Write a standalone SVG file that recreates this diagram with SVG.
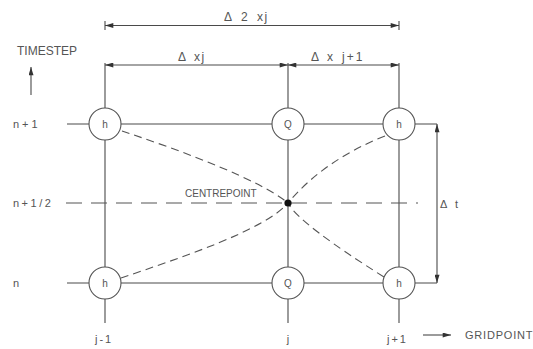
<svg xmlns="http://www.w3.org/2000/svg" width="533" height="349" viewBox="0 0 533 349">
<style>
.ln{stroke:#4a4a4a;stroke-width:1.1;fill:none}
.dash{stroke:#555;stroke-width:1.1;fill:none;stroke-dasharray:16 9}
.ddash{stroke:#555;stroke-width:1.1;fill:none;stroke-dasharray:8 5}
.node{fill:#fff;stroke:#555;stroke-width:1.1}
.t{font-family:"Liberation Sans",Arial,sans-serif;fill:#555}
.in{font-size:10px;text-anchor:middle;dominant-baseline:central}
</style>
<defs>
<marker id="ah" viewBox="0 0 10 6" refX="10" refY="3" markerWidth="9" markerHeight="5" markerUnits="userSpaceOnUse" orient="auto-start-reverse">
<path d="M0,0 L10,3 L0,6 Z" fill="#333"/>
</marker>
</defs>
<rect width="533" height="349" fill="#fff"/>

<g id="connectors">
<line class="ln" x1="67" y1="124" x2="437" y2="124"/>
<line class="ln" x1="67" y1="283" x2="437" y2="283"/>
<line class="ln" x1="105" y1="63" x2="105" y2="323"/>
<line class="ln" x1="288" y1="63" x2="288" y2="323"/>
<line class="ln" x1="399" y1="63" x2="399" y2="323"/>
<line class="dash" x1="66" y1="203" x2="418" y2="203"/>
<path class="ddash" d="M122,131 C185,152 260,180 288,203"/>
<path class="ddash" d="M121,278 C180,258 265,230 288,203"/>
<path class="ddash" d="M385,136 Q324,160 288,203"/>
<path class="ddash" d="M384,277 C330,243 295,217 288,203"/>
</g>

<g id="node-h-n1-j-1"><circle class="node" cx="105" cy="124" r="16"/><text class="t in" x="105" y="124">h</text></g>
<g id="node-Q-n1-j"><circle class="node" cx="288" cy="124" r="16"/><text class="t in" x="288" y="124">Q</text></g>
<g id="node-h-n1-j+1"><circle class="node" cx="399" cy="124" r="16"/><text class="t in" x="399" y="124">h</text></g>
<g id="node-h-n-j-1"><circle class="node" cx="105" cy="283" r="16"/><text class="t in" x="105" y="283">h</text></g>
<g id="node-Q-n-j"><circle class="node" cx="288" cy="283" r="16"/><text class="t in" x="288" y="283">Q</text></g>
<g id="node-h-n-j+1"><circle class="node" cx="399" cy="283" r="16"/><text class="t in" x="399" y="283">h</text></g>
<g id="node-centrepoint">
<circle cx="288" cy="203" r="3.6" fill="#111"/>
<text class="t" x="185" y="197" font-size="10">CENTREPOINT</text>
</g>

<g id="dimensions">
<line class="ln" x1="105" y1="21" x2="105" y2="30"/>
<line class="ln" x1="399" y1="21" x2="399" y2="30"/>
<line class="ln" x1="105" y1="25.5" x2="399" y2="25.5" marker-start="url(#ah)" marker-end="url(#ah)"/>
<text class="t" y="21" font-size="12"><tspan x="224">Δ</tspan><tspan x="241">2</tspan><tspan x="257" letter-spacing="1.5">xj</tspan></text>
<line class="ln" x1="105" y1="65" x2="288" y2="65" marker-start="url(#ah)" marker-end="url(#ah)"/>
<line class="ln" x1="288" y1="65" x2="399" y2="65" marker-start="url(#ah)" marker-end="url(#ah)"/>
<text class="t" y="61" font-size="12"><tspan x="178">Δ</tspan><tspan x="194" letter-spacing="1.5">xj</tspan></text>
<text class="t" y="61" font-size="12"><tspan x="311">Δ</tspan><tspan x="327">x</tspan><tspan x="342" letter-spacing="2">j+1</tspan></text>
<line class="ln" x1="437" y1="124" x2="437" y2="283" marker-start="url(#ah)" marker-end="url(#ah)"/>
<text class="t" y="208" font-size="11"><tspan x="440">Δ</tspan><tspan x="455">t</tspan></text>
</g>

<g id="axes">
<text class="t" x="17" y="55" font-size="12">TIMESTEP</text>
<line class="ln" x1="31" y1="95" x2="31" y2="67" marker-end="url(#ah)"/>
<text class="t" x="13" y="128" font-size="11" letter-spacing="3">n+1</text>
<text class="t" x="13" y="207" font-size="11" letter-spacing="2.5">n+1/2</text>
<text class="t" x="13" y="287" font-size="11">n</text>
<text class="t" x="95" y="343" font-size="11" letter-spacing="2">j-1</text>
<text class="t" x="288" y="343" font-size="11" text-anchor="middle">j</text>
<text class="t" x="387" y="343" font-size="11" letter-spacing="2">j+1</text>
<line class="ln" x1="423" y1="335" x2="451" y2="335" marker-end="url(#ah)"/>
<text class="t" x="465" y="339" font-size="11" letter-spacing="0.8">GRIDPOINT</text>
</g>
</svg>
